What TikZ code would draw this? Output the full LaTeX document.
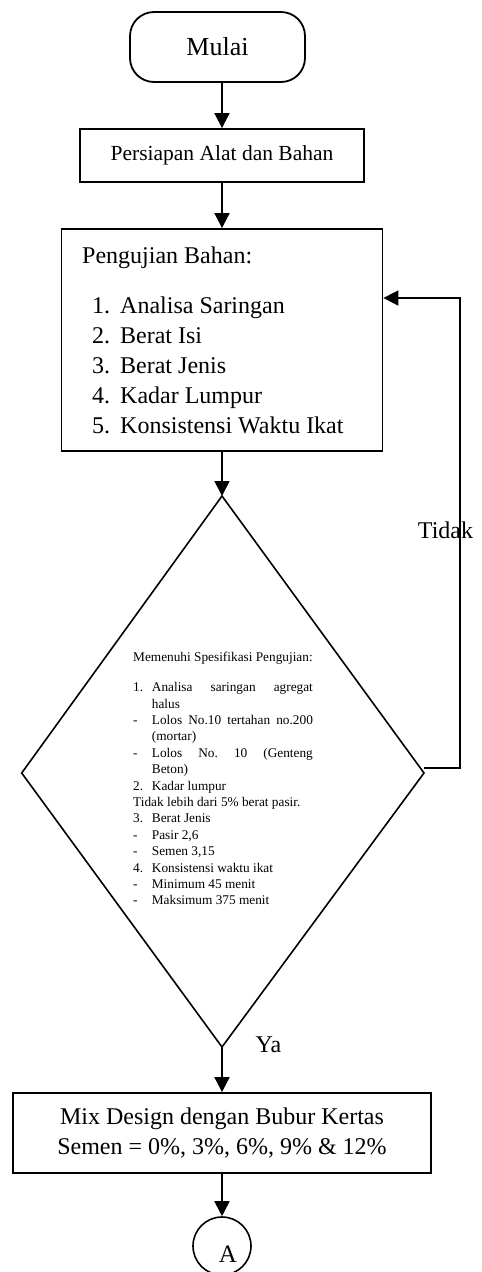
\documentclass[tikz,border=0pt]{standalone}
\usepackage{fontspec}
\setmainfont{Liberation Serif}
\usetikzlibrary{arrows.meta}
\begin{document}
\frenchspacing
\begin{tikzpicture}[x=1pt,y=-1pt,
  box/.style={draw, line width=1.8pt, rectangle, inner sep=0pt},
  arr/.style={line width=1.8pt, -{Triangle[length=15pt,width=15pt]}},
  lbl/.style={inner sep=0pt, font=\fontsize{24}{30}\selectfont},
  dmd/.style={line width=1.6pt, line join=miter}]
\useasboundingbox (0,0) rectangle (482,1272);
% nodes
\node[box, rounded corners=24pt, minimum width=175pt, minimum height=70pt,
      font=\fontsize{26}{30}\selectfont] (mulai) at (217.5,47) {Mulai};
\node[box, minimum width=284pt, minimum height=53pt,
      font=\fontsize{21.5}{26}\selectfont] (prep) at (222,155.5) {Persiapan Alat dan Bahan};
\node[box, minimum width=321pt, minimum height=222pt] (peng) at (222,340) {};
\node[anchor=base west, inner sep=0pt] (pengtext) at (82,263) {%
  \begin{minipage}[t]{290pt}\fontsize{24}{30}\selectfont
  Pengujian Bahan:\\[20pt]
  \hspace*{10pt}\makebox[28pt][l]{1.}Analisa Saringan\\
  \hspace*{10pt}\makebox[28pt][l]{2.}Berat Isi\\
  \hspace*{10pt}\makebox[28pt][l]{3.}Berat Jenis\\
  \hspace*{10pt}\makebox[28pt][l]{4.}Kadar Lumpur\\
  \hspace*{10pt}\makebox[28pt][l]{5.}Konsistensi Waktu Ikat
  \end{minipage}};
% diamond
\coordinate (dtop) at (222,496);
\coordinate (dright) at (424,773);
\coordinate (dbot) at (222,1047);
\coordinate (dleft) at (21.7,773);
\draw[dmd] (dtop) -- (dright) -- (dbot) -- (dleft) -- cycle;
\node[anchor=base west, inner sep=0pt] (dtext) at (133,661.7) {%
  \begin{minipage}[t]{182pt}\fontsize{13.3}{16.4}\selectfont\frenchspacing
  Memenuhi Spesifikasi Pengujian:\\[13.6pt]
  \makebox[18.7pt][l]{1.}\makebox[161pt][s]{Analisa saringan agregat}\\
  \hspace*{18.7pt}halus\\
  \makebox[18.7pt][l]{-}\makebox[161pt][s]{Lolos No.10 tertahan no.200}\\
  \hspace*{18.7pt}(mortar)\\
  \makebox[18.7pt][l]{-}\makebox[161pt][s]{Lolos No. 10 (Genteng}\\
  \hspace*{18.7pt}Beton)\\
  \makebox[18.7pt][l]{2.}Kadar lumpur\\
  Tidak lebih dari 5\% berat pasir.\\
  \makebox[18.7pt][l]{3.}Berat Jenis\\
  \makebox[18.7pt][l]{-}Pasir 2,6\\
  \makebox[18.7pt][l]{-}Semen 3,15\\
  \makebox[18.7pt][l]{4.}Konsistensi waktu ikat\\
  \makebox[18.7pt][l]{-}Minimum 45 menit\\
  \makebox[18.7pt][l]{-}Maksimum 375 menit
  \end{minipage}};
\node[box, minimum width=418pt, minimum height=80pt, align=center,
      font=\fontsize{24}{30}\selectfont] (mix) at (222,1133)
      {Mix Design dengan Bubur Kertas\\Semen = 0\%, 3\%, 6\%, 9\% \& 12\%};
\node[draw, circle, line width=1.6pt, minimum size=58pt, inner sep=0pt,
      label={[inner sep=0pt, font=\fontsize{25}{30}\selectfont, xshift=6pt, yshift=-8pt]center:A}]
      (conA) at (222,1246) {};
% labels
\node[lbl] (ya) at (268.5,1045) {Ya};
\node[lbl] (tidak) at (445.5,530) {Tidak};
% connectors
\draw[arr] (mulai.south -| prep.north) -- (prep.north);
\draw[arr] (prep.south) -- (peng.north);
\draw[arr] (peng.south) -- (dtop);
\draw[arr] (dbot) -- (mix.north);
\draw[arr] (mix.south) -- (conA.north);
\coordinate (loopstart) at (424,768);
\coordinate (loopc) at (460,298);
\draw[arr] (loopstart) -| (loopc) -- (loopc -| peng.east);
\end{tikzpicture}
\end{document}
